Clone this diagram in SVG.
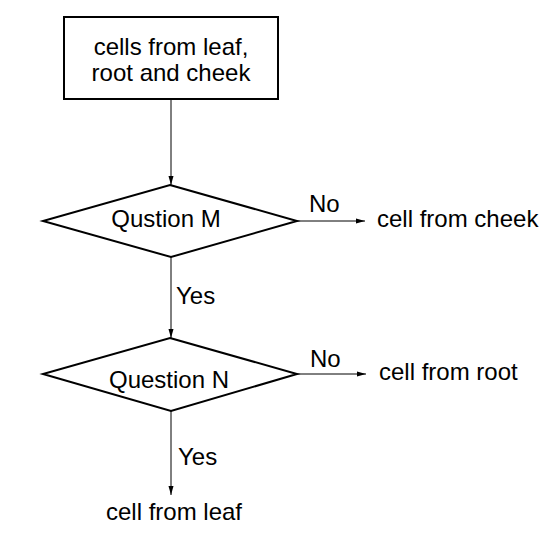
<svg xmlns="http://www.w3.org/2000/svg" width="547" height="535" viewBox="0 0 547 535">
<style>
text{font-family:"Liberation Sans",Arial,sans-serif;font-size:24px;fill:#000}
.shape{fill:#fff;stroke:#000;stroke-width:2}
.conn{stroke:#000;stroke-width:1;fill:none}
</style>
<defs>
<marker id="arr" markerWidth="10" markerHeight="8" refX="9" refY="4" orient="auto" markerUnits="userSpaceOnUse">
<path d="M0,1.5 L9,4 L0,6.5 Z" fill="#000"/>
</marker>
</defs>
<rect width="547" height="535" fill="#fff"/>
<g id="connectors">
<line class="conn" x1="171" y1="99" x2="171" y2="185" marker-end="url(#arr)"/>
<line class="conn" x1="297" y1="221" x2="365" y2="221" marker-end="url(#arr)"/>
<line class="conn" x1="171" y1="257" x2="171" y2="338" marker-end="url(#arr)"/>
<line class="conn" x1="297" y1="374" x2="366" y2="374" marker-end="url(#arr)"/>
<line class="conn" x1="171" y1="411" x2="171" y2="495" marker-end="url(#arr)"/>
<text x="309" y="212">No</text>
<text x="176" y="304">Yes</text>
<text x="310" y="367">No</text>
<text x="178" y="465">Yes</text>
</g>
<g id="start">
<rect class="shape" x="64" y="17" width="214" height="82"/>
<text x="171" y="55" text-anchor="middle">cells from leaf,</text>
<text x="171" y="81" text-anchor="middle">root and cheek</text>
</g>
<g id="questionM">
<polygon class="shape" points="170,185 297,221 171,257 43,221"/>
<text x="166" y="227" text-anchor="middle">Qustion M</text>
</g>
<g id="questionN">
<polygon class="shape" points="170,338 297,374 171,411 43,374"/>
<text x="169" y="388" text-anchor="middle">Question N</text>
</g>
<g id="cheek"><text x="377" y="227">cell from cheek</text></g>
<g id="root"><text x="379" y="380">cell from root</text></g>
<g id="leaf"><text x="174" y="520" text-anchor="middle">cell from leaf</text></g>
</svg>
